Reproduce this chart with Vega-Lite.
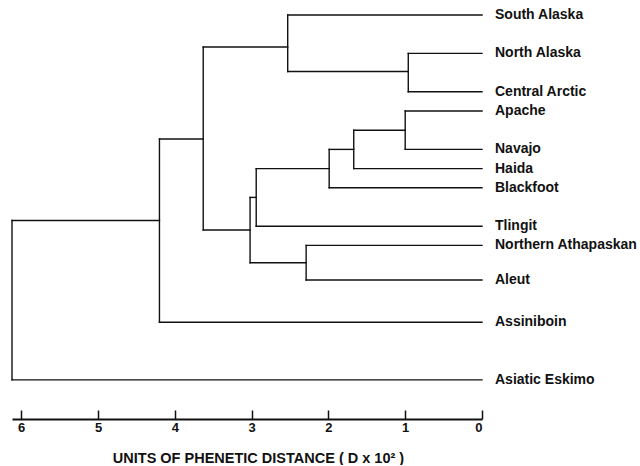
{
  "$schema": "https://vega.github.io/schema/vega-lite/v6.json",
  "width": 470,
  "height": 414,
  "padding": {"left": 11, "top": 5, "right": 0, "bottom": 0},
  "background": "white",
  "config": {"view": {"stroke": null}, "font": "Liberation Sans"},
  "datasets": {
    "segments": [
      {"d1": 0, "d2": 2.53, "p1": 0, "p2": 0},
      {"d1": 0, "d2": 0.96, "p1": 2, "p2": 2},
      {"d1": 0, "d2": 0.96, "p1": 4, "p2": 4},
      {"d1": 0.96, "d2": 2.53, "p1": 2.94, "p2": 2.94},
      {"d1": 0, "d2": 1.0, "p1": 5, "p2": 5},
      {"d1": 0, "d2": 1.0, "p1": 7, "p2": 7},
      {"d1": 1.0, "d2": 1.67, "p1": 6, "p2": 6},
      {"d1": 0, "d2": 1.67, "p1": 8, "p2": 8},
      {"d1": 1.67, "d2": 1.99, "p1": 7, "p2": 7},
      {"d1": 0, "d2": 1.99, "p1": 9, "p2": 9},
      {"d1": 1.99, "d2": 2.94, "p1": 8, "p2": 8},
      {"d1": 0, "d2": 2.94, "p1": 11, "p2": 11},
      {"d1": 2.94, "d2": 3.02, "p1": 9.5, "p2": 9.5},
      {"d1": 0, "d2": 2.29, "p1": 12, "p2": 12},
      {"d1": 0, "d2": 2.29, "p1": 13.8, "p2": 13.8},
      {"d1": 2.29, "d2": 3.02, "p1": 12.9, "p2": 12.9},
      {"d1": 2.53, "d2": 3.63, "p1": 1.67, "p2": 1.67},
      {"d1": 3.02, "d2": 3.63, "p1": 11.2, "p2": 11.2},
      {"d1": 3.63, "d2": 4.2, "p1": 6.46, "p2": 6.46},
      {"d1": 0, "d2": 4.2, "p1": 16, "p2": 16},
      {"d1": 4.2, "d2": 6.12, "p1": 10.7, "p2": 10.7},
      {"d1": 0, "d2": 6.12, "p1": 19, "p2": 19},
      {"d1": 0.96, "d2": 0.96, "p1": 2, "p2": 4},
      {"d1": 2.53, "d2": 2.53, "p1": 0, "p2": 2.94},
      {"d1": 1.0, "d2": 1.0, "p1": 5, "p2": 7},
      {"d1": 1.67, "d2": 1.67, "p1": 6, "p2": 8},
      {"d1": 1.99, "d2": 1.99, "p1": 7, "p2": 9},
      {"d1": 2.94, "d2": 2.94, "p1": 8, "p2": 11},
      {"d1": 2.29, "d2": 2.29, "p1": 12, "p2": 13.8},
      {"d1": 3.02, "d2": 3.02, "p1": 9.5, "p2": 12.9},
      {"d1": 3.63, "d2": 3.63, "p1": 1.67, "p2": 11.2},
      {"d1": 4.2, "d2": 4.2, "p1": 6.46, "p2": 16},
      {"d1": 6.12, "d2": 6.12, "p1": 10.7, "p2": 19}
    ],
    "leaves": [
      {"name": "South Alaska", "p": 0},
      {"name": "North Alaska", "p": 2},
      {"name": "Central Arctic", "p": 4},
      {"name": "Apache", "p": 5},
      {"name": "Navajo", "p": 7},
      {"name": "Haida", "p": 8},
      {"name": "Blackfoot", "p": 9},
      {"name": "Tlingit", "p": 11},
      {"name": "Northern Athapaskan", "p": 12},
      {"name": "Aleut", "p": 13.8},
      {"name": "Assiniboin", "p": 16},
      {"name": "Asiatic Eskimo", "p": 19}
    ]
  },
  "layer": [
    {
      "data": {"name": "segments"},
      "mark": {"type": "rule", "color": "#111", "strokeWidth": 1.4, "strokeCap": "square"},
      "encoding": {
        "x": {
          "field": "d1", "type": "quantitative",
          "scale": {"domain": [0, 6.12], "reverse": true, "nice": false, "zero": false},
          "axis": {
            "values": [0, 1, 2, 3, 4, 5, 6],
            "format": "d",
            "grid": false,
            "domainColor": "#111",
            "domainWidth": 2,
            "tickColor": "#111",
            "tickWidth": 1.5,
            "tickSize": -9,
            "labelPadding": 11,
            "labelFont": "Liberation Sans",
            "labelFontWeight": "bold",
            "labelFontSize": 13,
            "labelColor": "#111",
            "title": "UNITS OF PHENETIC DISTANCE ( D x 10² )",
            "titleFont": "Liberation Sans",
            "titleFontWeight": "bold",
            "titleFontSize": 14.5,
            "titleColor": "#111",
            "titlePadding": 17,
            "titleX": 246,
            "titleAlign": "center"
          }
        },
        "x2": {"field": "d2"},
        "y": {
          "field": "p1", "type": "quantitative",
          "scale": {"domain": [-0.52, 21.04], "reverse": true, "nice": false, "zero": false},
          "axis": null
        },
        "y2": {"field": "p2"}
      }
    },
    {
      "data": {"name": "leaves"},
      "mark": {"type": "text", "align": "left", "baseline": "middle", "dx": 13, "font": "Liberation Sans", "fontWeight": "bold", "fontSize": 14, "color": "#111"},
      "encoding": {
        "x": {"datum": 0, "type": "quantitative"},
        "y": {"field": "p", "type": "quantitative"},
        "text": {"field": "name"}
      }
    }
  ]
}
